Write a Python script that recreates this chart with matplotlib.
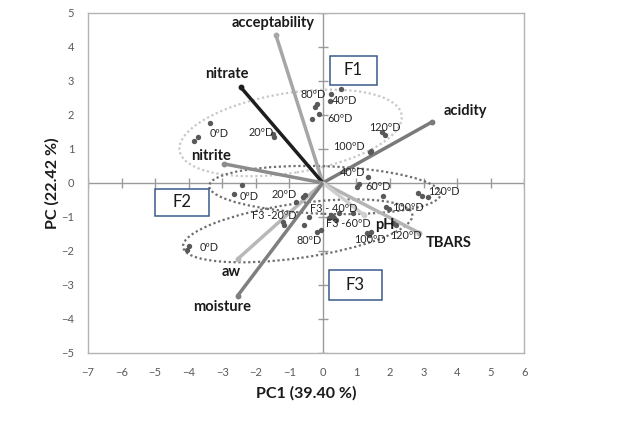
import matplotlib
matplotlib.use("Agg")
import matplotlib.pyplot as plt
from matplotlib.patches import Ellipse, Rectangle
import numpy as np

plt.rcParams['font.family'] = ['Lato', 'DejaVu Sans']

# loadings (variables)
var_names = ["acceptability", "nitrate", "nitrite", "acidity", "TBARS", "pH", "aw", "moisture"]
var_x = [-1.40, -2.45, -2.95, 3.25, 2.87, 1.22, -2.54, -2.54]
var_y = [4.35, 2.82, 0.56, 1.79, -1.47, -0.94, -2.24, -3.32]
var_colors = ['#a6a6a6', '#1e1e1e', '#8c8c8c', '#7a7a7a', '#b4b4b4', '#cfcfcf', '#b8b8b8', '#7f7f7f']
var_lab_x = [-1.49, -2.87, -3.34, 4.24, 3.76, 1.84, -2.72, -2.99]
var_lab_y = [4.71, 3.21, 0.79, 2.12, -1.76, -1.24, -2.62, -3.65]

# scores, formulation F1
f1_x = [-3.36, -3.73, -3.84, -1.50, -1.45, 0.54, 0.24, 0.22, -0.24, -0.18, -0.11, -0.31, 1.76, 1.85, 1.41, 1.45]
f1_y = [1.77, 1.36, 1.22, 1.43, 1.34, 2.75, 2.61, 2.41, 2.24, 2.31, 2.02, 1.87, 1.49, 1.41, 0.90, 0.95]
# formulation F2
f2_x = [-2.40, -2.65, -0.81, -0.54, -0.58, 1.34, 1.01, 1.07, 1.78, 1.88, 1.98, 2.83, 2.97, 3.12]
f2_y = [-0.06, -0.32, -0.55, -0.35, -0.42, 0.18, -0.12, -0.03, -0.40, -0.70, -0.77, -0.30, -0.38, -0.42]
# formulation F3
f3_x = [-3.99, -4.04, -1.20, -1.15, -0.56, -0.41, -0.16, -0.06, 0.19, 0.24, 0.34, 0.49, 0.29, 0.39, 0.89, 1.33, 1.43, 1.38, 2.08, 2.18]
f3_y = [-1.87, -1.97, -1.14, -1.24, -1.24, -0.99, -1.43, -1.38, -1.04, -0.94, -1.04, -0.89, -0.99, -1.09, -0.89, -1.48, -1.43, -1.53, -1.19, -1.24]

# point labels
pt_labels = ["0ºD", "20ºD", "80ºD", "40ºD", "60ºD", "120ºD", "100ºD",
             "0ºD", "20ºD", "40ºD", "60ºD", "100ºD", "120ºD",
             "0ºD", "F3 -20ºD", "F3 - 40ºD", "F3 -60ºD", "80ºD", "100ºD", "120ºD"]
pt_lab_x = [-3.10, -1.85, -0.30, 0.66, 0.51, 1.85, 0.78,
            -2.21, -1.16, 0.90, 1.64, 2.54, 3.61,
            -3.40, -1.46, 0.33, 0.76, -0.42, 1.40, 2.47]
pt_lab_y = [1.44, 1.47, 2.59, 2.41, 1.88, 1.62, 1.06,
            -0.41, -0.35, 0.32, -0.12, -0.71, -0.26,
            -1.91, -0.97, -0.76, -1.18, -1.68, -1.66, -1.56]

# group ellipses: center x, center y, width, height, angle
ell_cx = [-0.96, 0.06, -0.75]
ell_cy = [1.47, -0.21, -1.41]
ell_w = [6.7, 6.9, 6.9]
ell_h = [2.35, 1.4, 1.6]
ell_ang = [9, -2, 8]
ell_colors = ['#c8c8c8', '#6e6e6e', '#6e6e6e']

# group boxes: label, x0, y0 (bottom), width, height
box_names = ["F1", "F2", "F3"]
box_x0 = [0.21, -5.01, 0.18]
box_y0 = [2.88, -0.97, -3.44]
box_w = [1.40, 1.61, 1.58]
box_h = [0.86, 0.79, 0.88]

fig = plt.figure(figsize=(6.24, 4.45), dpi=100)
ax = fig.add_axes([0.141, 0.207, 0.699, 0.764])
ax.set_xlim(-7, 6)
ax.set_ylim(-5, 5)
ax.set_xticks(range(-7, 7))
ax.set_yticks(range(-5, 6))
ax.tick_params(length=0, labelsize=8, colors='#595959', pad=10)
for s in ax.spines.values():
    s.set_color('#b3b3b3')
    s.set_linewidth(1)

# zero axes with cross ticks
ax.axhline(0, color='#9a9a9a', lw=1, zorder=1)
ax.axvline(0, color='#9a9a9a', lw=1, zorder=1)
ax.plot(range(-7, 7), [0] * 14, ls='none', marker='|', ms=7, mew=1, color='#9a9a9a', zorder=1)
ax.plot([0] * 11, range(-5, 6), ls='none', marker='_', ms=7, mew=1, color='#9a9a9a', zorder=1)

for cx, cy, w, h, a, c in zip(ell_cx, ell_cy, ell_w, ell_h, ell_ang, ell_colors):
    ax.add_patch(Ellipse((cx, cy), w, h, angle=a, fill=False, ls=(0, (1, 1.2)),
                         lw=1.6, edgecolor=c, zorder=2))

for x, y, c in zip(var_x, var_y, var_colors):
    ax.plot([0, x], [0, y], color=c, lw=2.5, zorder=3, solid_capstyle='butt')
    ax.plot([x], [y], 'o', color=c, ms=3.2, zorder=3)

for name, x, y in zip(var_names, var_lab_x, var_lab_y):
    ax.text(x, y, name, fontsize=10.5, fontweight='bold', color='#1a1a1a',
            ha='center', va='center', zorder=5)

for xs, ys in [(f1_x, f1_y), (f2_x, f2_y), (f3_x, f3_y)]:
    ax.scatter(xs, ys, s=15, color='#595959', zorder=4, linewidths=0)

for t, x, y in zip(pt_labels, pt_lab_x, pt_lab_y):
    ax.text(x, y, t, fontsize=7.8, color='#262626', ha='center', va='center', zorder=5)

for name, x0, y0, w, h in zip(box_names, box_x0, box_y0, box_w, box_h):
    ax.add_patch(Rectangle((x0, y0), w, h, fill=True, facecolor='white',
                           edgecolor='#3a5a8a', lw=1.1, zorder=5))
    ax.text(x0 + w / 2, y0 + h / 2, name, fontsize=12, color='#1a1a1a',
            ha='center', va='center', zorder=6)

ax.set_xlabel('PC1 (39.40 %)', fontsize=11.5, fontweight='bold', color='#1a1a1a', labelpad=6)
ax.set_ylabel('PC (22.42 %)', fontsize=11.5, fontweight='bold', color='#1a1a1a', labelpad=1)

fig.savefig('out.png', dpi=100)
